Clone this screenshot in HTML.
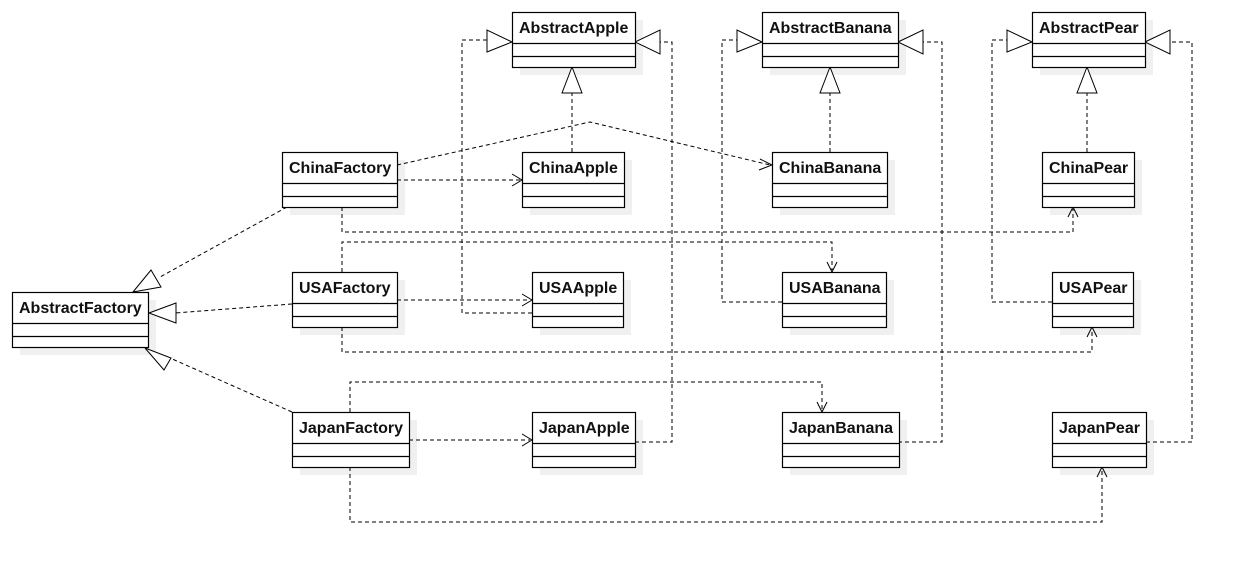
<!DOCTYPE html>
<html><head><meta charset="utf-8"><style>
html,body{margin:0;padding:0;background:#fff;}
svg{display:block;}
text{font-family:"Liberation Sans",sans-serif;font-weight:bold;font-size:16px;fill:#111;}
</style></head><body>
<svg width="1243" height="573" viewBox="0 0 1243 573" xmlns="http://www.w3.org/2000/svg">
<g fill="#f0f0f0">
<rect x="20" y="300" width="136" height="55"/>
<rect x="290" y="160" width="115" height="55"/>
<rect x="300" y="280" width="105" height="55"/>
<rect x="300" y="420" width="117" height="55"/>
<rect x="520" y="20" width="123" height="55"/>
<rect x="770" y="20" width="136" height="55"/>
<rect x="1040" y="20" width="113" height="55"/>
<rect x="530" y="160" width="102" height="55"/>
<rect x="780" y="160" width="115" height="55"/>
<rect x="1050" y="160" width="92" height="55"/>
<rect x="540" y="280" width="91" height="55"/>
<rect x="790" y="280" width="104" height="55"/>
<rect x="1060" y="280" width="81" height="55"/>
<rect x="540" y="420" width="103" height="55"/>
<rect x="790" y="420" width="117" height="55"/>
<rect x="1060" y="420" width="94" height="55"/>
</g>
<g fill="none" stroke="#000" stroke-dasharray="4,3" stroke-width="1">
<path d="M397 180H520"/>
<path d="M397 165L590 122L770 165"/>
<path d="M342 207V232H1073V209"/>
<path d="M342 272V242H832V270"/>
<path d="M397 300H530"/>
<path d="M342 327V352H1092V329"/>
<path d="M350 412V382H822V410"/>
<path d="M409 440H530"/>
<path d="M350 467V522H1102V469"/>
<path d="M572 152V92"/>
<path d="M830 152V92"/>
<path d="M1087 152V92"/>
<path d="M532 313H462V40H487"/>
<path d="M782 302H722V40H737"/>
<path d="M1052 302H992V40H1007"/>
<path d="M635 442H672V42H660"/>
<path d="M898 442H942V42H923"/>
<path d="M1146 442H1192V42H1170"/>
<path d="M287 207L160 277"/>
<path d="M292 304L175 313"/>
<path d="M292 412L170 358"/>
</g>
<g fill="none" stroke="#000" stroke-width="1">
<path d="M512 174L522 180L512 186"/>
<path d="M760 159L772 165L759 170"/>
<path d="M1068 217L1073 207L1078 217"/>
<path d="M827 262L832 272L837 262"/>
<path d="M522 294L532 300L522 306"/>
<path d="M1087 337L1092 327L1097 337"/>
<path d="M817 402L822 412L827 402"/>
<path d="M522 434L532 440L522 446"/>
<path d="M1097 477L1102 467L1107 477"/>
</g>
<g fill="#fff" stroke="#000" stroke-width="1">
<path d="M572 67L562 93H582Z"/>
<path d="M830 67L820 93H840Z"/>
<path d="M1087 67L1077 93H1097Z"/>
<path d="M512 42L487 30V52Z"/>
<path d="M762 42L737 30V52Z"/>
<path d="M1032 42L1007 30V52Z"/>
<path d="M635 42L660 30V54Z"/>
<path d="M898 42L923 30V54Z"/>
<path d="M1145 42L1170 30V54Z"/>
<path d="M133 292L151 270L161 287Z"/>
<path d="M149 313L176 303L176 323Z"/>
<path d="M145 348L171 358L164 370Z"/>
</g>
<g fill="#fff" stroke="#000" stroke-width="1.2">
<rect x="12.5" y="292.5" width="136" height="55"/><path d="M12.5 323.5H148.5M12.5 336.5H148.5"/>
<rect x="282.5" y="152.5" width="115" height="55"/><path d="M282.5 183.5H397.5M282.5 196.5H397.5"/>
<rect x="292.5" y="272.5" width="105" height="55"/><path d="M292.5 303.5H397.5M292.5 316.5H397.5"/>
<rect x="292.5" y="412.5" width="117" height="55"/><path d="M292.5 443.5H409.5M292.5 456.5H409.5"/>
<rect x="512.5" y="12.5" width="123" height="55"/><path d="M512.5 43.5H635.5M512.5 56.5H635.5"/>
<rect x="762.5" y="12.5" width="136" height="55"/><path d="M762.5 43.5H898.5M762.5 56.5H898.5"/>
<rect x="1032.5" y="12.5" width="113" height="55"/><path d="M1032.5 43.5H1145.5M1032.5 56.5H1145.5"/>
<rect x="522.5" y="152.5" width="102" height="55"/><path d="M522.5 183.5H624.5M522.5 196.5H624.5"/>
<rect x="772.5" y="152.5" width="115" height="55"/><path d="M772.5 183.5H887.5M772.5 196.5H887.5"/>
<rect x="1042.5" y="152.5" width="92" height="55"/><path d="M1042.5 183.5H1134.5M1042.5 196.5H1134.5"/>
<rect x="532.5" y="272.5" width="91" height="55"/><path d="M532.5 303.5H623.5M532.5 316.5H623.5"/>
<rect x="782.5" y="272.5" width="104" height="55"/><path d="M782.5 303.5H886.5M782.5 316.5H886.5"/>
<rect x="1052.5" y="272.5" width="81" height="55"/><path d="M1052.5 303.5H1133.5M1052.5 316.5H1133.5"/>
<rect x="532.5" y="412.5" width="103" height="55"/><path d="M532.5 443.5H635.5M532.5 456.5H635.5"/>
<rect x="782.5" y="412.5" width="117" height="55"/><path d="M782.5 443.5H899.5M782.5 456.5H899.5"/>
<rect x="1052.5" y="412.5" width="94" height="55"/><path d="M1052.5 443.5H1146.5M1052.5 456.5H1146.5"/>
</g>
<text x="19" y="313">AbstractFactory</text>
<text x="289" y="173">ChinaFactory</text>
<text x="299" y="293">USAFactory</text>
<text x="299" y="433">JapanFactory</text>
<text x="519" y="33">AbstractApple</text>
<text x="769" y="33">AbstractBanana</text>
<text x="1039" y="33">AbstractPear</text>
<text x="529" y="173">ChinaApple</text>
<text x="779" y="173">ChinaBanana</text>
<text x="1049" y="173">ChinaPear</text>
<text x="539" y="293">USAApple</text>
<text x="789" y="293">USABanana</text>
<text x="1059" y="293">USAPear</text>
<text x="539" y="433">JapanApple</text>
<text x="789" y="433">JapanBanana</text>
<text x="1059" y="433">JapanPear</text>
</svg>
</body></html>
